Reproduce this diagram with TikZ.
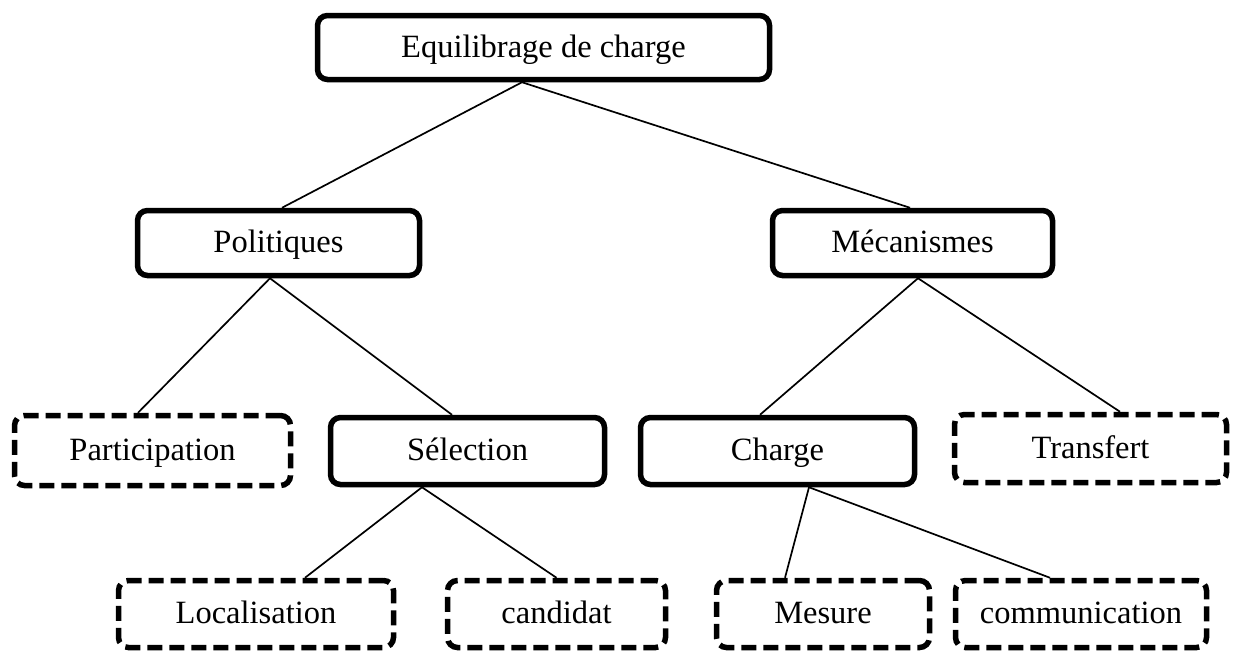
\documentclass[tikz,border=0pt]{standalone}
\usepackage{fontspec}
\setmainfont{Liberation Serif}
\begin{document}
\begin{tikzpicture}[x=1pt,y=-1pt,
  box/.style={draw, line width=5.5pt, rounded corners=10pt, fill=white, inner sep=0pt,
    text height=23.5pt, text depth=4.5pt,
    font=\fontsize{32.5}{38}\selectfont},
  solidbox/.style={box},
  dashbox/.style={box, dash pattern=on 15pt off 7pt},
  link/.style={line width=1.7pt}]
\useasboundingbox (0,0) rectangle (1233,653);
\node[solidbox, minimum width=452pt, minimum height=64pt] (eq) at (543.5,47.5) {Equilibrage de charge};
\node[solidbox, minimum width=282pt, minimum height=65pt] (pol) at (278.5,243) {Politiques};
\node[solidbox, minimum width=280pt, minimum height=65pt] (mec) at (912.5,243) {Mécanismes};
\node[dashbox, minimum width=276pt, minimum height=70pt] (part) at (152.5,450.5) {Participation};
\node[solidbox, minimum width=274pt, minimum height=67pt] (sel) at (467.5,451) {Sélection};
\node[solidbox, minimum width=274pt, minimum height=67pt] (chg) at (777.5,451) {Charge};
\node[dashbox, minimum width=272pt, minimum height=68pt] (trans) at (1090.5,448.5) {Transfert};
\node[dashbox, minimum width=275pt, minimum height=67pt] (loc) at (256,614) {Localisation};
\node[dashbox, minimum width=218pt, minimum height=67pt] (cand) at (556.5,614) {candidat};
\node[dashbox, minimum width=213pt, minimum height=67pt] (mes) at (823,614) {Mesure};
\node[dashbox, minimum width=251pt, minimum height=67pt] (com) at (1081,614) {communication};
\draw[link] ([xshift=-21.5pt]eq.south) -- ([xshift=3.5pt]pol.north);
\draw[link] ([xshift=-21.5pt]eq.south) -- ([xshift=-2.5pt]mec.north);
\draw[link] ([xshift=-8.5pt]pol.south) -- ([xshift=-14.5pt]part.north);
\draw[link] ([xshift=-8.5pt]pol.south) -- ([xshift=-15.5pt]sel.north);
\draw[link] ([xshift=5.5pt]mec.south) -- ([xshift=-17.5pt]chg.north);
\draw[link] ([xshift=5.5pt]mec.south) -- ([xshift=29.5pt]trans.north);
\draw[link] ([xshift=-45.5pt]sel.south) -- ([xshift=49pt]loc.north);
\draw[link] ([xshift=-45.5pt]sel.south) -- (cand.north);
\draw[link] ([xshift=31.5pt]chg.south) -- ([xshift=-38pt]mes.north);
\draw[link] ([xshift=31.5pt]chg.south) -- ([xshift=-31pt]com.north);
\end{tikzpicture}
\end{document}
